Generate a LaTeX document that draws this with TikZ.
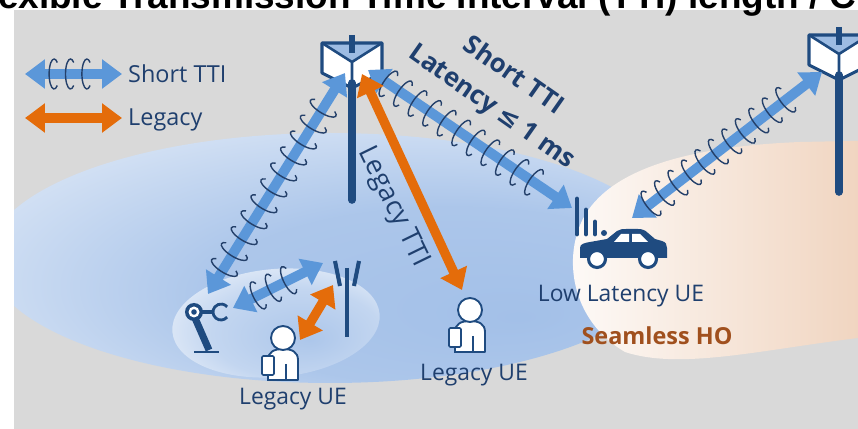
\documentclass[tikz,border=0pt]{standalone}
\usepackage{fontspec}
\setmainfont{Open Sans}
\newfontfamily\titlefont{Liberation Sans}
\newfontfamily\symfont{DejaVu Sans}
\usetikzlibrary{arrows.meta, decorations.markings}

\definecolor{navy}{HTML}{1F4B80}
\definecolor{sky}{HTML}{5B97D9}
\definecolor{haze}{HTML}{A3C0E8}
\definecolor{peach}{HTML}{F0D4BF}
\definecolor{bggray}{HTML}{D9D9D9}
\definecolor{tti}{HTML}{E46C0A}
\definecolor{facelt}{HTML}{9DBCE3}
\definecolor{inkblue}{HTML}{1F3F6E}
\definecolor{rust}{HTML}{A0501E}
\definecolor{coilink}{HTML}{24406A}

% coverage areas
\pgfdeclareradialshading{cellhaze}{\pgfpoint{14bp}{-12bp}}{color(0bp)=(haze); color(18bp)=(haze!90!white); color(36bp)=(haze!38!white); color(50bp)=(white)}
\pgfdeclareradialshading{spotglow}{\pgfpoint{8bp}{-6bp}}{color(0bp)=(haze!90!white); color(20bp)=(haze!65!white); color(42bp)=(white); color(50bp)=(white)}
\pgfdeclarehorizontalshading{hofade}{100bp}{color(0bp)=(white); color(20bp)=(white); color(70bp)=(peach); color(100bp)=(peach)}

\begin{document}
\begin{tikzpicture}[
        x=0.03cm, y=-0.03cm,
        >={Triangle[length=17pt, width=24pt]},
        shortlink/.style={<->, draw=sky, line width=8.5pt},
        legacylink/.style={<->, draw=tti, line width=8pt},
        coils/.style={postaction={decorate, decoration={markings,
            mark=between positions #1 with {\draw[-, coilink, line width=1.2pt] (50:5 and 15) arc[start angle=50, end angle=310, x radius=5, y radius=15];}}}},
        lbl/.style={text=inkblue, inner sep=0pt, font=\fontsize{19.5}{22}\selectfont},
        keytext/.style={text=inkblue, inner sep=0pt, anchor=base west, font=\fontsize{20}{22}\selectfont}
    ]

    \tikzset{
    tower/.pic={
        \fill[facelt] (-30,0) -- (30,0) -- (0,19) -- cycle;
        \fill[white] (-30,0) -- (0,19) -- (0,45) -- (-30,30) -- cycle
                     (30,0) -- (0,19) -- (0,45) -- (30,30) -- cycle;
        \draw[navy, line width=6.5pt, line cap=round] (0,40) -- (0,157);
        \draw[navy, line width=5pt] (0,-8) -- (0,10);
        \draw[navy, line width=2.6pt, line join=round] (-30,0) -- (30,0) -- (30,30) -- (0,45) -- (-30,30) -- cycle;
        \draw[navy, line width=2.2pt] (-30,0) -- (0,19) -- (30,0) (0,19) -- (0,45);
    },
    person/.pic={
        \filldraw[fill=white, draw=navy, line width=1.6pt, line join=round] (-15,42) -- (-15,22)
            .. controls (-15,14) and (-9,11) .. (0,11) .. controls (9,11) and (15,14) .. (15,22) -- (15,42) -- cycle;
        \draw[navy, line width=1.4pt] (3,26) -- (3,42);
        \filldraw[fill=white, draw=navy, line width=1.6pt] (0,0) circle[radius=12];
        \filldraw[fill=white, draw=navy, line width=1.4pt, rounded corners=1pt] (-21,18) rectangle (-9,37);
        \draw[navy, line width=1.2pt] (-15,37) -- (-15,43);
    }
}

    \useasboundingbox (0,0) rectangle (858,429);
    \fill[bggray] (14,10) rectangle (858,429);

    \begin{scope}
    \clip (14,10) rectangle (858,429);
    \shade[shading=cellhaze] (330,258) ellipse[x radius=342, y radius=125];
    \shade[shading=spotglow, rotate around={5:(276,323)}] (276,323) ellipse[x radius=104, y radius=54];
    \shade[shading=hofade] (900,140) -- (800,142) .. controls (700,146) and (615,165) .. (585,215)
        .. controls (562,255) and (570,320) .. (625,352) .. controls (680,370) and (760,350) .. (858,338) -- (900,336) -- cycle;
    \end{scope}

    \node[anchor=base west, inner sep=0pt, font=\titlefont\bfseries\fontsize{31.5}{33}\selectfont] (title) at (-35,9)
        {Flexible Transmission Time Interval (TTI) length / C};

    % base stations
    \pic (bs1) at (352,43) {tower};
    \pic (bs2) at (839,35) {tower};

    % small cell
    \draw[navy, line width=3.5pt] (347,268) -- (347,337);
    \draw[navy, line width=3.5pt] (335,261) -- (340,286) (359,261) -- (354,286);

    \coordinate (bs1-w) at (345,73);
    \coordinate (bs1-e) at (368,70);
    \coordinate (bs1-s) at (362,74);
    \coordinate (bs2-w) at (822,72);
    \coordinate (arm-n) at (208,294);
    \coordinate (arm-e) at (233,308);
    \coordinate (sc-w) at (323,263);
    \coordinate (sc-s) at (333,285);
    \coordinate (ue1-e) at (300,340);
    \coordinate (ue2-n) at (462,290);
    \coordinate (car-w) at (572,208);
    \coordinate (car-e) at (632,218);

    \draw[shortlink, coils={0.12 and 0.88 step 16pt}] (arm-n) -- (bs1-w);
    \draw[shortlink, coils={0.1 and 0.85 step 15pt}] (bs1-e) -- (car-w);
    \draw[shortlink, coils={0.1 and 0.86 step 14.5pt}] (car-e) -- (bs2-w);
    \draw[shortlink, coils={0.28 and 0.68 step 14.5pt}] (arm-e) -- (sc-w);
    \draw[legacylink] (bs1-s) -- (ue2-n);
    \draw[legacylink] (ue1-e) -- (sc-s);

    % robot arm
    \draw[navy, line width=2pt] (194,352) -- (219,352);
    \draw[navy, line width=6pt] (195,318) -- (209,350);
    \draw[navy, line width=3.5pt] (198,312) -- (214,312);
    \fill[navy] (194,312) circle[radius=9];
    \fill[white] (194,312) circle[radius=5.5];
    \fill[navy] (194,312) circle[radius=2.8];
    \draw[navy, line width=2.4pt] (221,312) ++(40:8) arc[start angle=40, end angle=320, radius=8];

    % user equipment
    \pic (ue1) at (283,338) {person};
    \pic (ue2) at (470,310) {person};

    % car with signal bars
    \draw[navy, line width=4.2pt, line cap=round] (577,199) -- (577,234) (586,210) -- (586,234) (595,222) -- (595,234);
    \fill[navy] (604,233) circle[radius=3];
    \fill[navy] (580,258) -- (580,248) .. controls (580,244) and (584,243) .. (590,242) -- (607,239) -- (617,231)
        .. controls (620,229) and (623,229) .. (626,229) -- (638,229) .. controls (642,229) and (645,230) .. (648,233)
        -- (655,239) -- (662,241) .. controls (666,242) and (667,245) .. (667,248) -- (667,258) -- cycle;
    \fill[white] (614,242) -- (621,234) -- (629,234) -- (629,242) -- cycle;
    \fill[white] (632,242) -- (632,234) -- (640,234) -- (648,242) -- cycle;
    \filldraw[fill=white, draw=navy, line width=2.6pt] (597,259) circle[radius=8.5];
    \filldraw[fill=white, draw=navy, line width=2.6pt] (648,259) circle[radius=8.5];

    % labels
    \node[text=inkblue, align=center, rotate=-35, font=\bfseries\fontsize{22}{32}\selectfont] (lowlat) at (502,92)
        {Short TTI\\Latency {\symfont ≤} 1 ms};
    \node[lbl, rotate=-64, font=\fontsize{23}{25}\selectfont] (legtti) at (393,207) {Legacy TTI};
    \node[lbl, anchor=base] (llue) at (621,302) {Low Latency UE};
    \node[lbl, anchor=base, text=rust, font=\bfseries\fontsize{20}{22}\selectfont] (sho) at (657,345) {Seamless HO};
    \node[lbl, anchor=base] (ue2-txt) at (474,381) {Legacy UE};
    \node[lbl, anchor=base] (ue1-txt) at (293,404) {Legacy UE};

    % key
    \coordinate (keyS-a) at (25,74);
    \coordinate (keyS-b) at (122,74);
    \coordinate (keyL-a) at (25,118);
    \coordinate (keyL-b) at (122,118);
    \draw[shortlink, coils={0.3 and 0.66 step 14pt}] (keyS-a) -- (keyS-b);
    \draw[legacylink] (keyL-a) -- (keyL-b);
    \node[keytext] (keyS) at (128,83) {Short TTI};
    \node[keytext] (keyL) at (128,126) {Legacy};
    \end{tikzpicture}
\end{document}
